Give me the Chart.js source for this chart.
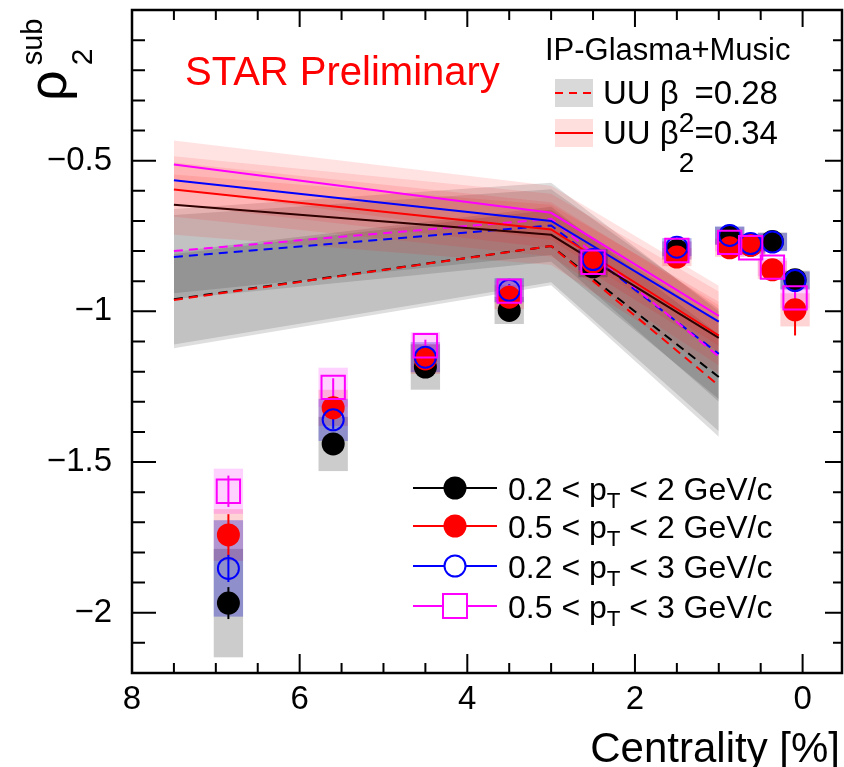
<!DOCTYPE html>
<html><head><meta charset="utf-8">
<script src="https://cdn.jsdelivr.net/npm/chart.js@4.4.0/dist/chart.umd.min.js"></script>
<style>html,body{margin:0;padding:0;background:#fff}#wrap{width:844px;height:767px;position:relative}</style>
</head><body><div id="wrap"><canvas id="c"></canvas></div>
<script>
// ---------- data ----------
const centrality = [6.85, 5.6, 4.5, 3.5, 2.5, 1.5, 0.87, 0.62, 0.36, 0.09];
const rhoBlack   = [-1.968, -1.44, -1.185, -0.997, -0.852, -0.798, -0.75, -0.78, -0.768, -0.895];
const rhoRed     = [-1.742, -1.32, -1.158, -0.953, -0.837, -0.82, -0.789, -0.781, -0.862, -0.995];
const rhoBlue    = [-1.853, -1.36, -1.152, -0.93, -0.828, -0.787, -0.748, -0.775, -0.77, -0.898];
const rhoMag     = [-1.597, -1.252, -1.114, -0.933, -0.837, -0.798, -0.771, -0.789, -0.853, -0.955];
const statBlack  = [0.053, 0.02, 0.02, 0.015, 0.015, 0.015, 0.015, 0.015, 0.015, 0.02];
const statRed    = [0.069, 0.04, 0.03, 0.02, 0.02, 0.02, 0.02, 0.02, 0.035, 0.085];
const statBlue   = [0.045, 0.03, 0.02, 0.02, 0.02, 0.02, 0.02, 0.02, 0.02, 0.02];
const statMag    = [0.052, 0.03, 0.02, 0.02, 0.02, 0.02, 0.02, 0.02, 0.02, 0.04];
const sysBlack   = [0.18, 0.09, 0.075, 0.045, 0.035, 0.03, 0.03, 0.03, 0.03, 0.03];
const sysRed     = [0.086, 0.06, 0.05, 0.04, 0.035, 0.03, 0.03, 0.03, 0.03, 0.055];
const sysBlue    = [0.16, 0.07, 0.05, 0.04, 0.035, 0.03, 0.03, 0.03, 0.03, 0.03];
const sysMag     = [0.075, 0.065, 0.045, 0.035, 0.03, 0.03, 0.03, 0.03, 0.03, 0.035];

const modelX      = [7.5, 3, 1];
const b028Black   = [-0.96, -0.783, -1.218];
const b028Red     = [-0.962, -0.783, -1.246];
const b028Blue    = [-0.82, -0.715, -1.141];
const b028Mag     = [-0.80, -0.693, -1.15];
const b028BlackE  = [0.15, 0.12, 0.18];
const b028RedE    = [0.16, 0.13, 0.17];
const b028BlueE   = [0.14, 0.12, 0.15];
const b028MagE    = [0.14, 0.12, 0.15];
const b034Black   = [-0.646, -0.746, -1.088];
const b034Red     = [-0.596, -0.728, -1.08];
const b034Blue    = [-0.565, -0.70, -1.034];
const b034Mag     = [-0.513, -0.673, -1.015];
const b034BlackE  = [0.10, 0.10, 0.12];
const b034RedE    = [0.09, 0.09, 0.10];
const b034BlueE   = [0.08, 0.09, 0.10];
const b034MagE    = [0.08, 0.09, 0.10];

const xTickVals = [8, 6, 4, 2, 0];
const yTickVals = [-2, -1.5, -1, -0.5];
const seriesLabels = ['0.2 < p_T < 2 GeV/c', '0.5 < p_T < 2 GeV/c', '0.2 < p_T < 3 GeV/c', '0.5 < p_T < 3 GeV/c'];
const modelTitle = 'IP-Glasma+Music';
const modelLabels = ['UU \u03b2_2=0.28', 'UU \u03b2_2=0.34'];
const starLabel = 'STAR Preliminary';
const xTitle = 'Centrality [%]';

// ---------- styles ----------
const FONT = '"Liberation Sans", Arial, Helvetica, sans-serif';
const COL = { black: '#000000', red: '#ff0000', blue: '#0000ff', mag: '#ff00ff' };
const SYSCOL = { black: 'rgba(0,0,0,0.2)', red: 'rgba(255,0,0,0.17)', blue: 'rgba(0,0,200,0.3)', mag: 'rgba(255,0,255,0.18)' };
const BAND028 = 'rgba(0,0,0,0.13)';
const BAND034 = 'rgba(255,0,0,0.11)';

const pts = (ys) => centrality.map((x, i) => ({ x, y: ys[i] }));
const mpts = (ys) => modelX.map((x, i) => ({ x, y: ys[i] }));
const mptsOff = (ys, es, s) => modelX.map((x, i) => ({ x, y: ys[i] + s * es[i] }));

const datasets = [];
function addModel(center, err, color, dashed, bandColor, ord) {
  datasets.push({ data: mptsOff(center, err, 1), borderWidth: 0, pointRadius: 0, fill: '+1', backgroundColor: bandColor, order: ord + 20 });
  datasets.push({ data: mptsOff(center, err, -1), borderWidth: 0, pointRadius: 0, fill: false, order: ord + 20 });
  datasets.push({ data: mpts(center), borderColor: color, borderWidth: 2, borderDash: dashed ? [9, 6] : [], pointRadius: 0, fill: false, order: ord });
}
addModel(b028Black, b028BlackE, COL.black, true, BAND028, 18);
addModel(b028Red, b028RedE, COL.red, true, BAND028, 17);
addModel(b028Blue, b028BlueE, COL.blue, true, BAND028, 16);
addModel(b028Mag, b028MagE, COL.mag, true, BAND028, 15);
addModel(b034Black, b034BlackE, '#300000', false, BAND034, 14);
addModel(b034Red, b034RedE, COL.red, false, BAND034, 13);
addModel(b034Blue, b034BlueE, COL.blue, false, BAND034, 12);
addModel(b034Mag, b034MagE, COL.mag, false, BAND034, 11);

const firstPointIdx = datasets.length;
datasets.push({ data: pts(rhoBlack), showLine: false, pointStyle: 'circle', pointRadius: 11.5, pointBackgroundColor: COL.black, pointBorderWidth: 0, order: 4 });
datasets.push({ data: pts(rhoRed), showLine: false, pointStyle: 'circle', pointRadius: 11.5, pointBackgroundColor: COL.red, pointBorderWidth: 0, order: 3 });
datasets.push({ data: pts(rhoBlue), showLine: false, pointStyle: 'circle', pointRadius: 10.5, pointBackgroundColor: 'rgba(0,0,0,0)', pointBorderColor: COL.blue, pointBorderWidth: 2, order: 2 });
datasets.push({ data: pts(rhoMag), showLine: false, pointStyle: 'rect', pointRadius: 16.5, pointBackgroundColor: 'rgba(0,0,0,0)', pointBorderColor: COL.mag, pointBorderWidth: 2, order: 1 });

const series = [
  { v: rhoBlack, st: statBlack, sy: sysBlack, c: 'black' },
  { v: rhoRed, st: statRed, sy: sysRed, c: 'red' },
  { v: rhoBlue, st: statBlue, sy: sysBlue, c: 'blue' },
  { v: rhoMag, st: statMag, sy: sysMag, c: 'mag' },
];

function drawRich(ctx, parts, x, y, size, color) {
  ctx.fillStyle = color; ctx.textBaseline = 'alphabetic'; ctx.textAlign = 'left';
  let cx = x;
  for (const p of parts) {
    const fs = p.s ? size * p.s : size;
    ctx.font = fs + 'px ' + FONT;
    ctx.fillText(p.t, cx, y + (p.dy || 0));
    cx += ctx.measureText(p.t).width;
  }
  return cx;
}
function parseSub(str, subDy, subScale) {
  const m = str.split('_');
  const parts = [{ t: m[0] }];
  if (m.length > 1) { parts.push({ t: m[1][0], dy: subDy, s: subScale }); parts.push({ t: m[1].slice(1) }); }
  return parts;
}

const decor = {
  id: 'decor',
  beforeDatasetDraw(chart, args) {
    if (args.index !== firstPointIdx) return;
    const ctx = chart.ctx, xs = chart.scales.x, ys = chart.scales.y, a = chart.chartArea;
    ctx.save();
    ctx.beginPath(); ctx.rect(a.left, a.top, a.right - a.left, a.bottom - a.top); ctx.clip();
    const hw = 0.175;
    for (const s of series) {
      ctx.fillStyle = SYSCOL[s.c];
      centrality.forEach((x, i) => {
        const x0 = xs.getPixelForValue(x + hw), x1 = xs.getPixelForValue(x - hw);
        const y0 = ys.getPixelForValue(s.v[i] + s.sy[i]), y1 = ys.getPixelForValue(s.v[i] - s.sy[i]);
        ctx.fillRect(x0, y0, x1 - x0, y1 - y0);
      });
    }
    for (const s of series) {
      ctx.strokeStyle = COL[s.c]; ctx.lineWidth = 2;
      centrality.forEach((x, i) => {
        const px = xs.getPixelForValue(x);
        ctx.beginPath();
        ctx.moveTo(px, ys.getPixelForValue(s.v[i] + s.st[i]));
        ctx.lineTo(px, ys.getPixelForValue(s.v[i] - s.st[i]));
        ctx.stroke();
      });
    }
    ctx.restore();
  },
  afterDraw(chart) {
    const ctx = chart.ctx, xs = chart.scales.x, ys = chart.scales.y, a = chart.chartArea;
    ctx.save();
    // frame
    ctx.strokeStyle = '#000'; ctx.lineWidth = 2.5;
    ctx.strokeRect(a.left, a.top, a.right - a.left, a.bottom - a.top);
    ctx.lineWidth = 2;
    // y ticks
    for (let k = -22; k <= 0; k++) {
      const v = k / 10; const py = ys.getPixelForValue(v);
      const major = (k % 5 === 0);
      ctx.beginPath();
      ctx.moveTo(a.left, py); ctx.lineTo(a.left + (major ? 24 : 13), py);
      ctx.moveTo(a.right, py); ctx.lineTo(a.right - (major ? 17 : 9), py);
      ctx.stroke();
    }
    // x ticks
    for (let k = 16; k >= -0.9; k--) {
      const v = k / 2; const px = xs.getPixelForValue(v);
      if (px > a.right) continue;
      const major = (k % 4 === 0);
      ctx.beginPath();
      ctx.moveTo(px, a.bottom); ctx.lineTo(px, a.bottom - (major ? 19 : 10));
      ctx.moveTo(px, a.top); ctx.lineTo(px, a.top + (major ? 17 : 10));
      ctx.stroke();
    }
    // axis titles
    ctx.fillStyle = '#000';
    ctx.font = '42px ' + FONT; ctx.textAlign = 'right'; ctx.textBaseline = 'alphabetic';
    ctx.fillText(xTitle, a.right - 2, 762);
    ctx.save();
    ctx.translate(66, 101); ctx.rotate(-Math.PI / 2);
    ctx.textAlign = 'left';
    ctx.font = '54px ' + FONT; ctx.fillText('\u03c1', 0, 0);
    const w = ctx.measureText('\u03c1').width;
    ctx.font = '30px ' + FONT; ctx.fillText('2', w + 5, 26);
    ctx.font = '29px ' + FONT; ctx.fillText('sub', w + 5, -24);
    ctx.restore();
    // STAR Preliminary
    ctx.fillStyle = COL.red; ctx.font = '40px ' + FONT; ctx.textAlign = 'left';
    ctx.fillText(starLabel, 185, 85);
    // model legend
    ctx.fillStyle = '#000'; ctx.font = '31px ' + FONT;
    ctx.fillText(modelTitle, 545, 60);
    const rows = [{ y: 93, band: 'rgba(0,0,0,0.15)', dash: [8, 6] }, { y: 133, band: 'rgba(255,0,0,0.13)', dash: [] }];
    rows.forEach((r, i) => {
      ctx.fillStyle = r.band; ctx.fillRect(555, r.y - 14, 38, 28);
      ctx.strokeStyle = COL.red; ctx.lineWidth = 2; ctx.setLineDash(r.dash);
      ctx.beginPath(); ctx.moveTo(555, r.y); ctx.lineTo(593, r.y); ctx.stroke(); ctx.setLineDash([]);
      drawRich(ctx, parseSub(modelLabels[i], 28, 0.85), 603, r.y + 11, 33, '#000');
    });
    // series legend
    const ly = [488, 526, 566, 606];
    series.forEach((s, i) => {
      const y = ly[i];
      ctx.strokeStyle = COL[s.c]; ctx.lineWidth = 2;
      ctx.beginPath(); ctx.moveTo(413, y); ctx.lineTo(497, y); ctx.stroke();
      ctx.beginPath();
      if (s.c === 'black' || s.c === 'red') {
        ctx.fillStyle = COL[s.c]; ctx.arc(455, y, 11.5, 0, Math.PI * 2); ctx.fill();
      } else if (s.c === 'blue') {
        ctx.fillStyle = '#fff'; ctx.arc(455, y, 10.5, 0, Math.PI * 2); ctx.fill(); ctx.stroke();
      } else {
        ctx.fillStyle = '#fff'; ctx.rect(443, y - 12, 24, 24); ctx.fill(); ctx.stroke();
      }
      drawRich(ctx, parseSub(seriesLabels[i], 8, 0.7), 508, y + 12, 32, '#000');
    });
    ctx.restore();
  }
};

new Chart(document.getElementById('c'), {
  type: 'line',
  data: { datasets },
  options: {
    responsive: true, maintainAspectRatio: false, animation: false,
    layout: { autoPadding: false, padding: { top: 10, right: 2, left: 0, bottom: 0 } },
    plugins: { legend: { display: false }, tooltip: { enabled: false } },
    elements: { line: { tension: 0 } },
    scales: {
      x: {
        type: 'linear', reverse: true, min: -0.47, max: 8,
        grid: { display: false, drawTicks: false }, border: { display: false },
        afterBuildTicks: (sc) => { sc.ticks = xTickVals.map(v => ({ value: v })); },
        afterFit: (sc) => { sc.height = 94; sc.paddingLeft = 0; sc.paddingRight = 0; },
        ticks: { font: { family: FONT, size: 33 }, color: '#000', padding: 7, maxRotation: 0, autoSkip: false,
          callback: (v) => String(v) }
      },
      y: {
        type: 'linear', min: -2.2, max: 0,
        grid: { display: false, drawTicks: false }, border: { display: false },
        afterBuildTicks: (sc) => { sc.ticks = yTickVals.map(v => ({ value: v })); },
        afterFit: (sc) => { sc.width = 132; sc.paddingTop = 0; sc.paddingBottom = 0; },
        ticks: { font: { family: FONT, size: 33 }, color: '#000', padding: 20, autoSkip: false,
          callback: (v) => (v < 0 ? '\u2212' : '') + String(Math.abs(v)) }
      }
    }
  },
  plugins: [decor]
});
</script>
</body></html>
